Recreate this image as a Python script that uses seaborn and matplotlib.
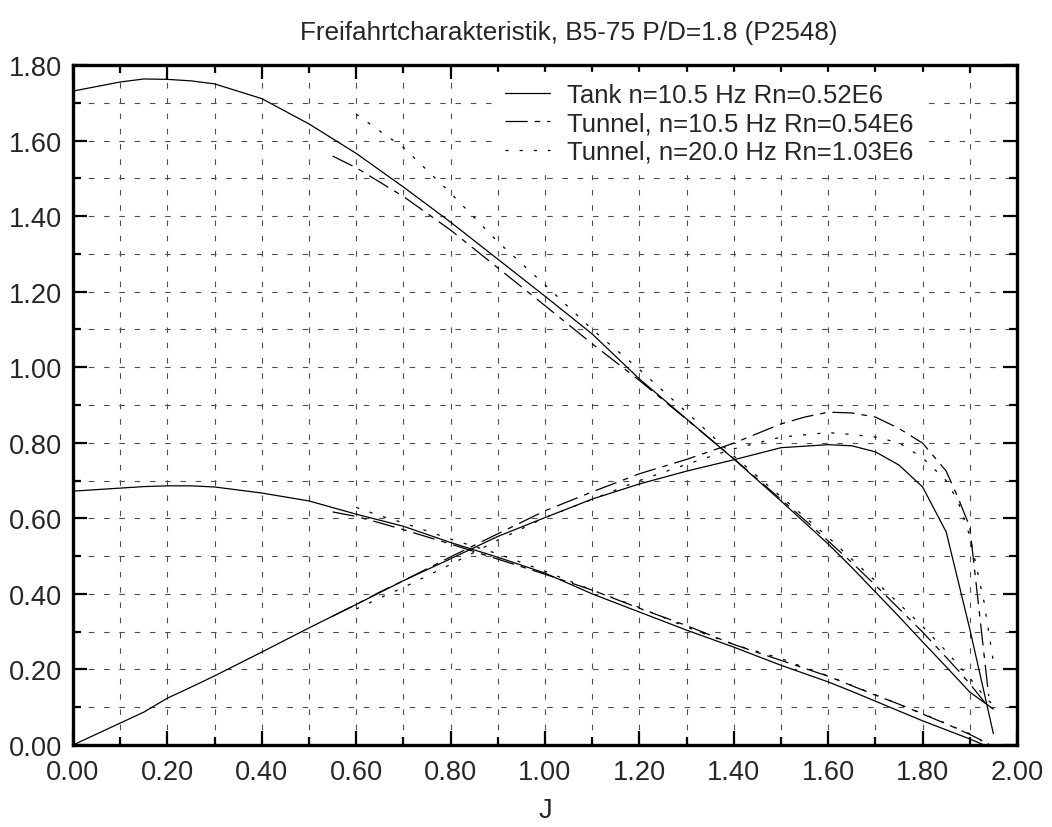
import numpy as np
import pandas as pd
import matplotlib
matplotlib.use("Agg")
import matplotlib.pyplot as plt
from matplotlib.ticker import MultipleLocator, FormatStrFormatter
import seaborn as sns

# --- Tank, n=10.5 Hz ---------------------------------------------------------
tank_j = [0.00, 0.10, 0.15, 0.20, 0.25, 0.30, 0.40, 0.50, 0.60, 0.70, 0.80,
          0.90, 1.00, 1.10, 1.20, 1.30, 1.40, 1.50, 1.60, 1.65, 1.70, 1.75,
          1.80, 1.85, 1.90]
tank_kt = [0.672, 0.680, 0.684, 0.686, 0.686, 0.683, 0.667, 0.646, 0.611,
           0.579, 0.536, 0.497, 0.455, 0.400, 0.352, 0.304, 0.259, 0.211,
           0.167, 0.142, 0.116, 0.090, 0.064, 0.040, 0.016]
tank_kq10 = [1.731, 1.755, 1.763, 1.762, 1.758, 1.750, 1.711, 1.644, 1.566,
             1.477, 1.384, 1.286, 1.188, 1.088, 0.969, 0.863, 0.757, 0.646,
             0.532, 0.470, 0.405, 0.340, 0.273, 0.207, 0.140]
tank_eta = [0.000, 0.058, 0.087, 0.124, 0.153, 0.183, 0.246, 0.310, 0.372,
            0.435, 0.493, 0.552, 0.602, 0.651, 0.691, 0.725, 0.755, 0.787,
            0.795, 0.792, 0.776, 0.741, 0.683, 0.564, 0.307]
# last measured points beyond J=1.90
tank_end_j_kt, tank_end_kt = 1.93, 0.000
tank_end_j_kq, tank_end_kq10 = 1.95, 0.095
tank_end_j_eta, tank_end_eta = 1.95, 0.030

# --- Tunnel, n=10.5 Hz -------------------------------------------------------
tun1_j = [0.55, 0.60, 0.65, 0.70, 0.80, 0.90, 1.00, 1.10, 1.20, 1.30, 1.40,
          1.50, 1.55, 1.60, 1.65, 1.70, 1.75, 1.80, 1.85, 1.875, 1.90, 1.94]
tun1_kt = [0.617, 0.605, 0.588, 0.570, 0.532, 0.492, 0.452, 0.410, 0.362,
           0.316, 0.266, 0.224, 0.203, 0.182, 0.157, 0.132, 0.108, 0.082,
           0.056, 0.042, 0.028, 0.003]
tun1_kq10 = [1.559, 1.528, 1.490, 1.452, 1.363, 1.263, 1.163, 1.062, 0.965,
             0.862, 0.758, 0.650, 0.596, 0.540, 0.483, 0.423, 0.361, 0.299,
             0.232, 0.198, 0.162, 0.100]
tun1_eta = [0.341, 0.372, 0.405, 0.435, 0.498, 0.559, 0.620, 0.670, 0.718,
            0.756, 0.799, 0.850, 0.868, 0.881, 0.879, 0.868, 0.838, 0.799,
            0.725, 0.655, 0.577, 0.130]

# --- Tunnel, n=20.0 Hz -------------------------------------------------------
tun2_j = [0.60, 0.65, 0.70, 0.80, 0.90, 1.00, 1.10, 1.20, 1.30, 1.40, 1.50,
          1.55, 1.60, 1.65, 1.70, 1.75, 1.80, 1.85, 1.875, 1.90, 1.93, 1.95]
tun2_kt = [0.629, 0.607, 0.588, 0.545, 0.506, 0.460, 0.410, 0.364, 0.312,
           0.266, 0.229, 0.205, 0.183, 0.158, 0.133, 0.108, 0.083, 0.057,
           0.043, 0.030, 0.008, 0.000]
tun2_kq10 = [1.670, 1.625, 1.582, 1.461, 1.332, 1.218, 1.100, 0.994, 0.881,
             0.765, 0.657, 0.604, 0.550, 0.492, 0.434, 0.374, 0.314, 0.248,
             0.213, 0.177, 0.130, 0.105]
tun2_eta = [0.360, 0.389, 0.417, 0.478, 0.542, 0.602, 0.650, 0.700, 0.743,
            0.784, 0.815, 0.821, 0.827, 0.822, 0.815, 0.800, 0.760, 0.700,
            0.645, 0.553, 0.380, 0.220]

labels = ["Tank n=10.5 Hz Rn=0.52E6",
          "Tunnel, n=10.5 Hz Rn=0.54E6",
          "Tunnel, n=20.0 Hz Rn=1.03E6"]
title = "Freifahrtcharakteristik, B5-75 P/D=1.8 (P2548)"

sns.set_theme(style="white")
plt.rcParams["font.family"] = ["Liberation Sans", "DejaVu Sans"]
plt.rcParams["lines.scale_dashes"] = False

fig = plt.figure(figsize=(10.52, 8.28), dpi=100)
ax = fig.add_axes([73 / 1052, 1 - 746 / 828, 944 / 1052, 680 / 828])

styles = ["-", (0, (16, 5, 4, 5)), (0, (2.2, 8))]
lw = 0.9

series = [
    [(tank_j + [tank_end_j_kq], tank_kq10 + [tank_end_kq10]),
     (tank_j + [tank_end_j_kt], tank_kt + [tank_end_kt]),
     (tank_j + [tank_end_j_eta], tank_eta + [tank_end_eta])],
    [(tun1_j, tun1_kq10), (tun1_j, tun1_kt), (tun1_j, tun1_eta)],
    [(tun2_j, tun2_kq10), (tun2_j, tun2_kt), (tun2_j, tun2_eta)],
]

for k, curves in enumerate(series):
    for m, (xj, yv) in enumerate(curves):
        df = pd.DataFrame({"J": xj, "v": yv})
        sns.lineplot(data=df, x="J", y="v", ax=ax, sort=False, estimator=None,
                     color="black", lw=lw, linestyle=styles[k],
                     label=labels[k] if m == 0 else None, legend=False)

ax.set_xlim(0, 2.0)
ax.set_ylim(0, 1.8)
ax.xaxis.set_major_locator(MultipleLocator(0.2))
ax.xaxis.set_minor_locator(MultipleLocator(0.1))
ax.yaxis.set_major_locator(MultipleLocator(0.2))
ax.yaxis.set_minor_locator(MultipleLocator(0.1))
ax.xaxis.set_major_formatter(FormatStrFormatter("%.2f"))
ax.yaxis.set_major_formatter(FormatStrFormatter("%.2f"))

ax.grid(True, which="both", color="0.3", lw=0.8, linestyle=(0, (4, 7)))
ax.set_axisbelow(True)

ax.tick_params(which="both", direction="in", top=True, right=True,
               bottom=True, left=True, color="black")
ax.tick_params(which="major", length=10, width=1.6, labelsize=19.6, pad=8)
ax.tick_params(axis="x", which="major", pad=10)
ax.tick_params(which="minor", length=6, width=1.6)
for s in ax.spines.values():
    s.set_visible(True)
    s.set_color("black")
    s.set_linewidth(2.4)

ax.set_xlabel("J", fontsize=19.6, labelpad=9)
ax.set_ylabel("")

fig.text(300 / 1052, 1 - 33 / 828, title, ha="left", va="center", fontsize=18.8)

handles, labs = ax.get_legend_handles_labels()
leg = ax.legend(handles, labs, loc="upper left", bbox_to_anchor=(0.4467, 0.989),
                borderaxespad=0, frameon=True, facecolor="white",
                edgecolor="white", framealpha=1, fancybox=False, fontsize=18.5,
                handlelength=1.75, handletextpad=0.66, labelspacing=0.17,
                borderpad=0.4)

fig.savefig("out.png", dpi=100)
